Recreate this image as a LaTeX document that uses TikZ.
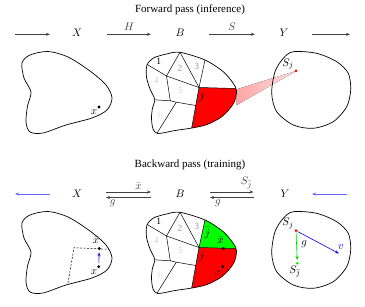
\documentclass[tikz,border=0pt]{standalone}
\usepackage{fontspec}
\setmainfont{Liberation Serif}
\usetikzlibrary{arrows.meta}

\tikzset{
  outlineX/.style={insert path={plot[smooth cycle] coordinates {(22,63) (30,55) (48,51.5) (68,57) (90,71) (106,85) (112,98) (107,110) (92,118) (66,125) (43,133) (30,132) (26,122) (27.5,106) (31,92) (24,78)}}},
  outlineB/.style={insert path={plot[smooth cycle] coordinates {(180,52.3) (205,60) (223,71.5) (233,83) (236.5,91) (233.5,103.5) (222,116.5) (207,124.5) (192,128) (174,130.7) (158,133.5) (153,129) (151.5,118) (152.5,108) (154.7,99.5) (150,89) (146.5,77) (147,65) (153.5,58) (166.5,54)}}},
  outlineY/.style={insert path={plot[smooth cycle] coordinates {(293.3,51.7) (316.7,53.3) (336.7,61.7) (348.3,73.3) (350.7,90) (346.7,106.7) (333.3,121.7) (313.3,128.3) (293.3,125) (276.7,111.7) (271.7,93.3) (275,71.7) (283.3,58.3)}}}
}

\newcommand{\cells}{%
  \draw (143,62) -- (166.5,76) -- (181.5,49.5);
  \draw (166.5,76) -- (199,87.5) -- (180,52.3);
  \draw (206.75,52) -- (199,87.5) -- (245,88.75);
  \draw (199,87.5) -- (189.5,140);
  \draw (166.5,76) -- (170.3,100.8);
  \draw (148,99.4) -- (170.3,100.8) -- (176.3,102.2) -- (195.75,105.5);
  \draw (176.3,102.2) -- (154,138);
}

\begin{document}
\begin{tikzpicture}[x=1pt, y=-1pt, line width=0.5pt,
  font=\fontsize{11}{13}\selectfont, inner sep=1pt,
  dot/.style={circle, fill=black, inner sep=0pt, minimum size=3.2pt},
  arr/.style={-{Stealth[length=4pt,width=3pt]}, black!75, line width=0.6pt},
  barr/.style={-{Stealth[length=4pt,width=3pt]}, blue!60, line width=0.8pt},
  cellno/.style={font=\fontsize{9.5}{11}\selectfont},
  rim/.style={line width=0.7pt}]
  \useasboundingbox (0,0) rectangle (365,307);

  % 순방향
  \node (titleF) at (190,9.5) {Forward pass (inference)};
  \coordinate (fa0) at (15,34.3);  \coordinate (fa1) at (50,34.3);
  \coordinate (fb0) at (107,34.3); \coordinate (fb1) at (151,34.3);
  \coordinate (fc0) at (209,34.3); \coordinate (fc1) at (255,34.3);
  \coordinate (fd0) at (312,34.3); \coordinate (fd1) at (350,34.3);
  \draw[arr] (fa0) -- (fa1);
  \draw[arr] (fb0) -- node[above=2pt] (fH) {$H$} (fb1);
  \draw[arr] (fc0) -- node[above=2pt] (fS) {$S$} (fc1);
  \draw[arr] (fd0) -- (fd1);
  \node (fX) at (77,33) {$X$};
  \node (fB) at (180,33) {$B$};
  \node (fY) at (284,33) {$Y$};

  % 입력 공간
  \draw[rim, outlineX];
  \node[dot] (fx) at (99,107) {};
  \node (fxl) at (94,112.5) {$x$};

  % 사영 원뿔
  \fill[left color=red!35, right color=red!12] (296,71) -- (236.7,89.3) -- (236.7,105) -- cycle;

  % 분할된 공간
  \begin{scope}
    \clip[outlineB];
    \fill[red] (199,87.5) -- (245,88.75) -- (245,140) -- (189.5,140) -- cycle;
    \cells
  \end{scope}
  \draw[rim, outlineB];
  \node[cellno] (fc1n) at (158.7,61.7) {1};
  \node[cellno, black!40] (fc2n) at (180,68) {2};
  \node[cellno, black!40] (fc3n) at (196.7,66.7) {3};
  \node[cellno, black!18] (fc4n) at (156.3,80) {4};
  \node[cellno, black!18] (fc5n) at (180.5,90.5) {5};
  \node[cellno, black!12] (fc6n) at (160.3,115) {6};
  \node (fj) at (202,96.5) {$j$};

  % 출력 공간
  \draw[rim, outlineY];
  \node[dot, red, minimum size=3pt] (fsj) at (296,71) {};
  \node (fsjl) at (288,64) {$S_j$};

  % 역방향
  \node (titleB) at (190,165.3) {Backward pass (training)};
  \coordinate (ba0) at (50,194);   \coordinate (ba1) at (15,194);
  \coordinate (bb0) at (106,192);  \coordinate (bb1) at (151,192);
  \coordinate (bb2) at (151,197.5);\coordinate (bb3) at (106,197.5);
  \coordinate (bc0) at (210,192);  \coordinate (bc1) at (253.5,192);
  \coordinate (bc2) at (253.5,197.5);\coordinate (bc3) at (210,197.5);
  \coordinate (bd0) at (347,194);  \coordinate (bd1) at (312,194);
  \draw[barr] (ba0) -- (ba1);
  \draw[arr] (bb0) -- node[above=1.5pt, pos=0.72] (bxl) {$\bar{x}$} (bb1);
  \draw[arr] (bb2) -- node[below=1pt, pos=0.85] (bg1) {$g$} (bb3);
  \draw[arr] (bc0) -- node[above=1.5pt, pos=0.84] (bsl) {$S_{\bar{j}}$} (bc1);
  \draw[arr] (bc2) -- node[below=1pt, pos=0.82] (bg2) {$g$} (bc3);
  \draw[barr] (bd0) -- (bd1);
  \node (bX) at (77,193.3) {$X$};
  \node (bB) at (180,193.3) {$B$};
  \node (bY) at (285,193.3) {$Y$};

  \begin{scope}[shift={(0,160)}]
    % 입력 공간
    \begin{scope}
      \clip[outlineX];
      \draw[dashed, dash pattern=on 2pt off 1.5pt] (66.8,130) -- (74,87.7) -- (116,89.7);
    \end{scope}
    \draw[rim, outlineX];
    \node[dot] (bxb) at (99.3,88.5) {};
    \node[dot] (bx) at (98.7,106.7) {};
    \draw[-{Stealth[length=4pt,width=3pt]}, blue, line width=0.6pt, shorten <=2pt, shorten >=2pt] (bx) -- (bxb);
    \node (bxbl) at (96,80) {$\bar{x}$};
    \node (bxl2) at (94,111.7) {$x$};

    % 분할된 공간
    \begin{scope}
      \clip[outlineB];
      \fill[red] (199,87.5) -- (245,88.75) -- (245,140) -- (189.5,140) -- cycle;
      \fill[green] (199,87.5) -- (206.75,52) -- (245,52) -- (245,88.75) -- cycle;
      \cells
    \end{scope}
    \draw[rim, outlineB];
    \node[cellno] (bc1n) at (158.7,61.7) {1};
    \node[cellno, black!40] (bc2n) at (180,68) {2};
    \node[cellno, black!40] (bc3n) at (196.7,66.7) {3};
    \node[cellno, black!18] (bc4n) at (156.3,80) {4};
    \node[cellno, black!18] (bc5n) at (180.5,90.5) {5};
    \node[cellno, black!12] (bc6n) at (160.3,115) {6};
    \node (bjb) at (207.4,73.2) {$\bar{j}$};
    \node (bj) at (201.7,96.7) {$j$};
    \node[dot] (bxbB) at (223.3,88.5) {};
    \node (bxbBl) at (220.5,80.7) {$\bar{x}$};
    \node[dot] (bxB) at (222.7,106.7) {};
    \node (bxBl) at (218,112.7) {$x$};

    % 출력 공간
    \draw[rim, outlineY];
    \coordinate (vtip) at (339,93.5);
    \node[dot, red, minimum size=3pt] (bsj) at (296,70.7) {};
    \node[dot, green, minimum size=3pt] (bsjb) at (297.3,103.3) {};
    \draw[-{Stealth[length=4pt,width=3pt]}, green!80!black, line width=0.6pt, shorten >=1.5pt] (bsj) -- (bsjb);
    \draw[-{Stealth[length=4pt,width=3pt]}, blue, line width=0.6pt] (bsj) -- (vtip);
    \node (bsjl) at (288,63.5) {$S_j$};
    \node (bsjbl) at (295,111.7) {$S_{\bar{j}}$};
    \node (bgl) at (304.3,84.3) {$g$};
    \node[blue] (bvl) at (341,86.7) {$v$};
  \end{scope}
\end{tikzpicture}
\end{document}
